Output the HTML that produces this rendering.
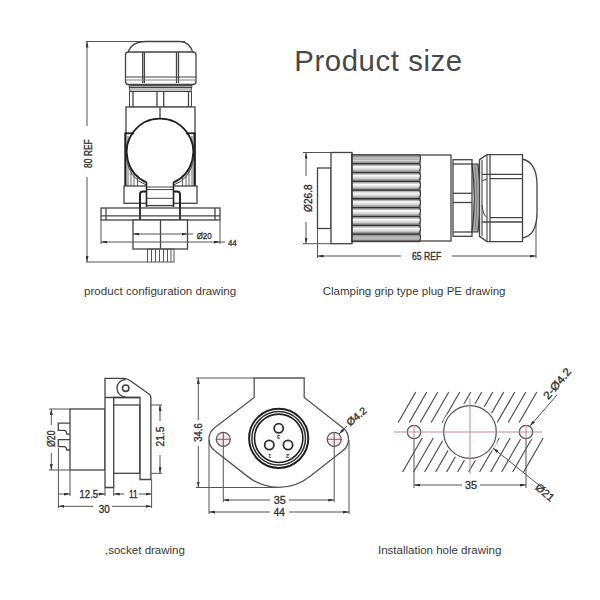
<!DOCTYPE html>
<html><head><meta charset="utf-8">
<style>
html,body{margin:0;padding:0;background:#fff;}
body{width:600px;height:600px;overflow:hidden;position:relative;font-family:"Liberation Sans",sans-serif;}
svg{position:absolute;left:0;top:0;}
.t{position:absolute;white-space:nowrap;color:#3a3a3a;line-height:1;}
</style></head>
<body>
<svg width="600" height="600" viewBox="0 0 600 600">
<defs>
<marker id="ar" viewBox="0 0 6 3" refX="6" refY="1.5" markerWidth="6" markerHeight="3" orient="auto-start-reverse" markerUnits="userSpaceOnUse"><path d="M0,0 L6,1.5 L0,3 z" fill="#333"/></marker>
<clipPath id="hcu"><rect x="398" y="392" width="147" height="30.5"/></clipPath><clipPath id="hcl"><rect x="398" y="438" width="147" height="34"/></clipPath><linearGradient id="ribg" x1="0" y1="0" x2="0" y2="1"><stop offset="0" stop-color="#fafafa"/><stop offset="0.6" stop-color="#d0d0d0"/><stop offset="1" stop-color="#808080"/></linearGradient>
</defs>

<!-- ============ CONFIGURATION DRAWING ============ -->
<g fill="none" stroke="#555" stroke-width="1">
  <!-- dim 80 REF -->
  <line x1="86" y1="41.5" x2="185" y2="41.5"/>
  <line x1="87" y1="41.5" x2="87" y2="126" marker-start="url(#ar)"/>
  <line x1="87" y1="177" x2="87" y2="262" marker-end="url(#ar)"/>
  <line x1="86" y1="262" x2="148" y2="262"/>
</g>
<g fill="#fff" stroke="#444" stroke-width="1.3">
  <!-- dome -->
  <path d="M128,53 Q131,41.5 146,41.5 L180,41.5 Q190,42 193,53"/>
  <!-- nut -->
  <rect x="125.5" y="52" width="70.5" height="32.5" rx="3"/>
  <line x1="142.7" y1="52" x2="142.7" y2="83"/>
  <line x1="144.4" y1="52" x2="144.4" y2="83"/>
  <line x1="176.5" y1="52" x2="176.5" y2="83"/>
  <line x1="178.5" y1="52" x2="178.5" y2="83"/>
  <line x1="125.5" y1="77" x2="196" y2="77" stroke-width="1.1"/>
  <line x1="125.5" y1="80" x2="196" y2="80" stroke-width="0.9" stroke="#777"/>
</g>
<!-- thread -->
<path d="M129,85.5 L192,85.5 L191,91.5 L130,91.5 z" fill="#c4c4c4" stroke="#555" stroke-width="1"/>
<line x1="129" y1="87.3" x2="192" y2="87.3" stroke="#444" stroke-width="1.2"/>
<g fill="#fff" stroke="#444" stroke-width="1.3">
  <rect x="129.5" y="91.5" width="62" height="15.5" stroke-width="1"/>
  <line x1="133" y1="91.5" x2="133" y2="107"/>
  <line x1="157" y1="91.5" x2="157" y2="107"/>
  <line x1="163.7" y1="91.5" x2="163.7" y2="107"/>
  <line x1="188.5" y1="91.5" x2="188.5" y2="107"/>
  <!-- body -->
  <rect x="126" y="107" width="69" height="80"/>
  <line x1="160" y1="107" x2="160" y2="121"/>
  <!-- brackets -->
  <path d="M125.4,133.3 L132,133.3 L132,186 L125.4,186 z" stroke="none"/>
  <path d="M194.6,133.3 L188,133.3 L188,186 L194.6,186 z" stroke="none"/>
  <g stroke="#666" stroke-width="1">
   <line x1="128" y1="136" x2="128" y2="186"/><line x1="131" y1="165" x2="131" y2="186"/><line x1="134" y1="172" x2="134" y2="186"/><line x1="137.5" y1="177" x2="137.5" y2="186"/>
   <line x1="192" y1="136" x2="192" y2="186"/><line x1="189" y1="165" x2="189" y2="186"/><line x1="186" y1="172" x2="186" y2="186"/><line x1="182.5" y1="177" x2="182.5" y2="186"/>
  </g>
  <path d="M146.7,182.5 A33.3,33.3 0 1 1 173.3,182.5" fill="#fff" stroke-width="1.8" stroke="#222"/>
  <path d="M126.5,158 Q129,179 146.5,185" fill="none" stroke="#444" stroke-width="1"/>
  <path d="M193.5,158 Q191,179 173.5,185" fill="none" stroke="#444" stroke-width="1"/>
  <line x1="125.4" y1="132.5" x2="125.4" y2="187" stroke="#222" stroke-width="2.2"/>
  <line x1="194.6" y1="132.5" x2="194.6" y2="187" stroke="#222" stroke-width="2.2"/>
  <line x1="125" y1="133.3" x2="134" y2="133.3" stroke="#222" stroke-width="1.8"/>
  <line x1="195" y1="133.3" x2="186" y2="133.3" stroke="#222" stroke-width="1.8"/>
  <!-- lower body box -->
  <rect x="124" y="186" width="73" height="17.3"/>
  <!-- hinge -->
  <rect x="146.5" y="182.5" width="27" height="24" stroke="none"/>
  <line x1="146.5" y1="182" x2="146.5" y2="207" stroke="#222" stroke-width="1.6"/>
  <line x1="173.5" y1="182" x2="173.5" y2="207" stroke="#222" stroke-width="1.6"/>
  <line x1="146.5" y1="187" x2="173.5" y2="187" stroke-width="1"/>
  <line x1="146.5" y1="189.6" x2="173.5" y2="189.6" stroke-width="1"/>
  <line x1="146.5" y1="198.3" x2="173.5" y2="198.3" stroke-width="1"/>
  <line x1="146.5" y1="205.6" x2="173.5" y2="205.6" stroke-width="1.4"/>
  <path d="M140,220 L140,194 Q140,191.5 143,191.5 L146.5,191.5" fill="none" stroke="#222" stroke-width="1.8"/>
  <path d="M180,220 L180,194 Q180,191.5 177,191.5 L173.5,191.5" fill="none" stroke="#222" stroke-width="1.8"/>
  <!-- flange -->
  <rect x="101" y="208" width="119" height="12"/>
  <line x1="140" y1="220" x2="140" y2="194" stroke="#222" stroke-width="1.8"/>
  <line x1="180" y1="220" x2="180" y2="194" stroke="#222" stroke-width="1.8"/>
  <line x1="101" y1="215.8" x2="220" y2="215.8"/>
  <line x1="106" y1="208" x2="106" y2="220"/>
  <line x1="215" y1="208" x2="215" y2="220"/>
  <!-- lower body -->
  <rect x="133" y="220" width="54.5" height="29"/>
  <line x1="160.5" y1="220" x2="160.5" y2="249"/>
</g>
<!-- pins -->
<g stroke="#555" stroke-width="1" fill="none">
  <rect x="147.5" y="249" width="26.5" height="13"/>
  <line x1="151.5" y1="249" x2="151.5" y2="262"/>
  <line x1="155.5" y1="249" x2="155.5" y2="262"/>
  <line x1="159.5" y1="249" x2="159.5" y2="262"/>
  <line x1="163.5" y1="249" x2="163.5" y2="262"/>
  <line x1="167.5" y1="249" x2="167.5" y2="262"/>
  <line x1="171" y1="249" x2="171" y2="262"/>
  <!-- dims -->
  <line x1="101" y1="220" x2="101" y2="244"/>
  <line x1="220" y1="220" x2="220" y2="244"/>
  <line x1="133" y1="234" x2="187.5" y2="234" marker-start="url(#ar)" marker-end="url(#ar)"/>
  <line x1="187.5" y1="234" x2="193" y2="234"/>
  <line x1="101" y1="242" x2="220" y2="242" marker-start="url(#ar)" marker-end="url(#ar)"/>
  <line x1="220" y1="242" x2="225" y2="242"/>
</g>

<!-- ============ PLUG DRAWING ============ -->
<g fill="none" stroke="#555" stroke-width="1">
  <line x1="303" y1="152.5" x2="331" y2="152.5"/>
  <line x1="303" y1="243.7" x2="331" y2="243.7"/>
  <line x1="306" y1="152.5" x2="306" y2="176" marker-start="url(#ar)"/>
  <line x1="306" y1="222" x2="306" y2="243.7" marker-end="url(#ar)"/>
  <line x1="317.5" y1="228.5" x2="317.5" y2="258"/>
  <line x1="536" y1="200" x2="536" y2="258"/>
  <line x1="317.5" y1="256" x2="401" y2="256" marker-start="url(#ar)"/>
  <line x1="452" y1="256" x2="536" y2="256" marker-end="url(#ar)"/>
</g>
<g fill="#fff" stroke="#444" stroke-width="1.3">
  <rect x="317.5" y="168" width="13.5" height="60.5"/>
  <rect x="331" y="152.5" width="21" height="91.2"/>
  <rect x="420" y="155" width="31" height="86"/>
  <rect x="453" y="159.7" width="19" height="76.6"/>
  <line x1="453" y1="164" x2="472" y2="164"/>
  <line x1="453" y1="193.3" x2="472" y2="193.3"/>
  <line x1="453" y1="202.5" x2="472" y2="202.5"/>
  <line x1="453" y1="232" x2="472" y2="232"/>
  <!-- thread ring -->
  <path d="M472,164 Q476.5,198 472,232 L478,232 Q482,198 478,164 z" fill="#a8a8a8" stroke="#333" stroke-width="1.2"/>
  <path d="M475,166 Q479,198 475,230" fill="none" stroke="#777" stroke-width="0.8"/>
  <!-- dome -->
  <path d="M522,159 Q537,162 537,185 L537,212 Q537,236 522,238"/>
  <!-- gland nut -->
  <path d="M487,154.7 L522.5,154.7 L522.5,241.6 L487,241.6 L479.5,236.3 L479.5,159.7 z"/>
  <line x1="482" y1="159.7" x2="482" y2="236.3" stroke-width="1.1"/>
  <line x1="487" y1="154.7" x2="487" y2="241.6" stroke-width="1.1"/>
  <line x1="490" y1="154.7" x2="490" y2="241.6"/>
  <line x1="482" y1="174.3" x2="522.5" y2="174.3"/>
  <line x1="490" y1="178.7" x2="522.5" y2="178.7"/>
  <line x1="482" y1="181" x2="487" y2="178.7" stroke-width="1"/>
  <line x1="490" y1="217.7" x2="522.5" y2="217.7"/>
  <line x1="482" y1="222" x2="522.5" y2="222"/>
  <path d="M482,205 Q483,215 487,217.7" fill="none" stroke-width="1"/>
</g>
<!-- ribs -->
<g id="ribs"><rect x="352" y="154.00" width="68" height="8.80" fill="#fff"/><rect x="352" y="157.96" width="68" height="4.84" fill="url(#ribg)"/><rect x="352" y="155.60" width="68" height="1.6" fill="#b5b5b5"/><rect x="352" y="154.00" width="68" height="1.7" fill="#333"/><path d="M419,154.80 Q422,158.40 419,162.50" fill="none" stroke="#444" stroke-width="1.2"/><rect x="352" y="162.80" width="68" height="8.80" fill="#fff"/><rect x="352" y="166.76" width="68" height="4.84" fill="url(#ribg)"/><rect x="352" y="164.40" width="68" height="1.6" fill="#b5b5b5"/><rect x="352" y="162.80" width="68" height="1.7" fill="#333"/><path d="M419,163.60 Q422,167.20 419,171.30" fill="none" stroke="#444" stroke-width="1.2"/><rect x="352" y="171.60" width="68" height="8.80" fill="#fff"/><rect x="352" y="175.56" width="68" height="4.84" fill="url(#ribg)"/><rect x="352" y="173.20" width="68" height="1.6" fill="#b5b5b5"/><rect x="352" y="171.60" width="68" height="1.7" fill="#333"/><path d="M419,172.40 Q422,176.00 419,180.10" fill="none" stroke="#444" stroke-width="1.2"/><rect x="352" y="180.40" width="68" height="8.80" fill="#fff"/><rect x="352" y="184.36" width="68" height="4.84" fill="url(#ribg)"/><rect x="352" y="182.00" width="68" height="1.6" fill="#b5b5b5"/><rect x="352" y="180.40" width="68" height="1.7" fill="#333"/><path d="M419,181.20 Q422,184.80 419,188.90" fill="none" stroke="#444" stroke-width="1.2"/><rect x="352" y="189.20" width="68" height="8.80" fill="#fff"/><rect x="352" y="193.16" width="68" height="4.84" fill="url(#ribg)"/><rect x="352" y="190.80" width="68" height="1.6" fill="#b5b5b5"/><rect x="352" y="189.20" width="68" height="1.7" fill="#333"/><path d="M419,190.00 Q422,193.60 419,197.70" fill="none" stroke="#444" stroke-width="1.2"/><rect x="352" y="198.00" width="68" height="8.80" fill="#fff"/><rect x="352" y="201.96" width="68" height="4.84" fill="url(#ribg)"/><rect x="352" y="199.60" width="68" height="1.6" fill="#b5b5b5"/><rect x="352" y="198.00" width="68" height="1.7" fill="#333"/><path d="M419,198.80 Q422,202.40 419,206.50" fill="none" stroke="#444" stroke-width="1.2"/><rect x="352" y="206.80" width="68" height="8.80" fill="#fff"/><rect x="352" y="210.76" width="68" height="4.84" fill="url(#ribg)"/><rect x="352" y="208.40" width="68" height="1.6" fill="#b5b5b5"/><rect x="352" y="206.80" width="68" height="1.7" fill="#333"/><path d="M419,207.60 Q422,211.20 419,215.30" fill="none" stroke="#444" stroke-width="1.2"/><rect x="352" y="215.60" width="68" height="8.80" fill="#fff"/><rect x="352" y="219.56" width="68" height="4.84" fill="url(#ribg)"/><rect x="352" y="217.20" width="68" height="1.6" fill="#b5b5b5"/><rect x="352" y="215.60" width="68" height="1.7" fill="#333"/><path d="M419,216.40 Q422,220.00 419,224.10" fill="none" stroke="#444" stroke-width="1.2"/><rect x="352" y="224.40" width="68" height="8.80" fill="#fff"/><rect x="352" y="228.36" width="68" height="4.84" fill="url(#ribg)"/><rect x="352" y="226.00" width="68" height="1.6" fill="#b5b5b5"/><rect x="352" y="224.40" width="68" height="1.7" fill="#333"/><path d="M419,225.20 Q422,228.80 419,232.90" fill="none" stroke="#444" stroke-width="1.2"/><rect x="352" y="233.20" width="68" height="8.80" fill="#fff"/><rect x="352" y="237.16" width="68" height="4.84" fill="url(#ribg)"/><rect x="352" y="234.80" width="68" height="1.6" fill="#b5b5b5"/><rect x="352" y="233.20" width="68" height="1.7" fill="#333"/><path d="M419,234.00 Q422,237.60 419,241.70" fill="none" stroke="#444" stroke-width="1.2"/><rect x="352" y="154" width="68" height="6" fill="#777" opacity="0.45"/><rect x="352" y="235" width="68" height="7" fill="#777" opacity="0.45"/><rect x="352" y="240.5" width="68" height="1.7" fill="#3c3c3c"/><line x1="352" y1="153.5" x2="352" y2="242.5" stroke="#333" stroke-width="1.6"/></g>

<!-- ============ SOCKET SIDE DRAWING ============ -->
<g fill="#fff" stroke="#444" stroke-width="1.3">
  <rect x="70" y="409" width="35" height="61"/>
  <path d="M70,423.2 L58.3,423.2 L58.3,430.4 L64.5,430.4 Q66.6,431 66.8,434.2 L70,434.2" fill="none"/>
  <path d="M70,439.6 L58.3,439.6 L58.3,446.7 L64.5,446.7 Q66.6,447.3 66.8,450 L70,450" fill="none"/>
  <!-- flange + lever -->
  <path d="M105,487.5 L105,378.3 L124,378.3 Q128.5,378.6 130.7,381.1 L149.3,394.3 Q150.9,395.5 150.9,398 L150.9,479.5 L140,479.5 L140,397.5 L113.7,397.5 L113.7,487.5 z"/>
  <line x1="105" y1="397.5" x2="140" y2="397.5"/>
  <path d="M125.7,379.5 A8.7,8.7 0 0 0 125.7,396.9" fill="none"/>
  <circle cx="125.7" cy="388.2" r="3.2" stroke-width="1.6"/>
  <rect x="113.7" y="405" width="26" height="68.3"/>
</g>
<g fill="none" stroke="#555" stroke-width="1">
  <line x1="49" y1="409" x2="70" y2="409"/>
  <line x1="49" y1="470" x2="70" y2="470"/>
  <line x1="51.3" y1="409" x2="51.3" y2="425" marker-start="url(#ar)"/>
  <line x1="51.3" y1="453" x2="51.3" y2="470" marker-end="url(#ar)"/>
  <line x1="151" y1="405" x2="162" y2="405"/>
  <line x1="151" y1="473.3" x2="162" y2="473.3"/>
  <line x1="160" y1="405" x2="160" y2="421" marker-start="url(#ar)"/>
  <line x1="160" y1="455" x2="160" y2="473.3" marker-end="url(#ar)"/>
  <line x1="58.4" y1="448" x2="58.4" y2="508"/>
  <line x1="70" y1="470" x2="70" y2="496"/>
  <line x1="105" y1="487.5" x2="105" y2="496"/>
  <line x1="113.7" y1="487.5" x2="113.7" y2="496"/>
  <line x1="151.6" y1="479.5" x2="151.6" y2="508"/>
  <line x1="58.4" y1="494" x2="70" y2="494" marker-end="url(#ar)"/>
  <line x1="97" y1="494" x2="105" y2="494" marker-end="url(#ar)"/>
  <line x1="113.7" y1="494" x2="124" y2="494" marker-start="url(#ar)"/>
  <line x1="139" y1="494" x2="151.6" y2="494" marker-end="url(#ar)"/>
  <line x1="58.4" y1="506.3" x2="93" y2="506.3" marker-start="url(#ar)"/>
  <line x1="112" y1="506.3" x2="151.6" y2="506.3" marker-end="url(#ar)"/>
</g>

<!-- ============ SOCKET FRONT DRAWING ============ -->
<g fill="#fff" stroke="#555" stroke-width="1.3">
  <path d="M254.2,378 L304.2,378 L304.2,397.5 L343.02,427.95 A14.3,14.3 0 0 1 343.01,450.46 L309.51,476.68 A50,50 0 0 1 247.83,476.63 L214.47,450.45 A14.3,14.3 0 0 1 214.60,427.85 L254.2,397.5 Z"/>
  <circle cx="278.7" cy="438.3" r="29.6" stroke-width="2" stroke="#222"/>
  <circle cx="278.7" cy="438.3" r="26.8" stroke-width="1.5" stroke="#333"/>
  <circle cx="278.7" cy="438.3" r="24.2" stroke-width="1.6" stroke="#222"/>
  <circle cx="278.7" cy="428.3" r="4.6" stroke-width="1.8" stroke="#333"/>
  <circle cx="269.3" cy="445" r="4.6" stroke-width="1.8" stroke="#333"/>
  <circle cx="288" cy="445" r="4.6" stroke-width="1.8" stroke="#333"/>
  <g fill="#333" stroke="none" font-family="Liberation Sans" font-weight="bold" font-size="6" text-anchor="middle" dominant-baseline="central">
   <text transform="translate(278.7,437.3) rotate(180)">3</text>
   <text transform="translate(269.8,455.5) rotate(180)">1</text>
   <text transform="translate(287.5,455.5) rotate(180)">2</text>
  </g>
</g>
<g fill="#f7e9ec" stroke="#5a5a5a" stroke-width="1.3">
  <circle cx="223.3" cy="439.3" r="7"/>
  <circle cx="334.2" cy="439.3" r="7"/>
</g>
<g fill="none" stroke="#555" stroke-width="1">
  <line x1="196" y1="378" x2="254" y2="378"/>
  <line x1="196" y1="487.5" x2="279" y2="487.5"/>
  <line x1="198.3" y1="378" x2="198.3" y2="420" marker-start="url(#ar)"/>
  <line x1="198.3" y1="446" x2="198.3" y2="487.5" marker-end="url(#ar)"/>
  <line x1="209" y1="440" x2="209" y2="514"/>
  <line x1="349" y1="440" x2="349" y2="514"/>
  <line x1="223.3" y1="432.3" x2="223.3" y2="502"/>
  <line x1="334.2" y1="432.3" x2="334.2" y2="502"/>
  <line x1="223.3" y1="500" x2="270" y2="500" marker-start="url(#ar)"/>
  <line x1="289" y1="500" x2="334.2" y2="500" marker-end="url(#ar)"/>
  <line x1="209" y1="512" x2="270" y2="512" marker-start="url(#ar)"/>
  <line x1="289" y1="512" x2="349" y2="512" marker-end="url(#ar)"/>
  <line x1="339" y1="434" x2="347" y2="426" marker-start="url(#ar)"/>
</g>
<g fill="none" stroke="#7a6268" stroke-width="1">
  <line x1="216.5" y1="439.3" x2="230" y2="439.3"/>
  <line x1="327.4" y1="439.3" x2="341" y2="439.3"/>
</g>

<!-- ============ INSTALLATION HOLE ============ -->
<g id="hatch" stroke="#505050" stroke-width="1.2"><line x1="398.19" y1="422.5" x2="415.80" y2="392"/><line x1="409.19" y1="422.5" x2="426.80" y2="392"/><line x1="420.19" y1="422.5" x2="437.80" y2="392"/><line x1="431.19" y1="422.5" x2="448.80" y2="392"/><line x1="442.19" y1="422.5" x2="459.80" y2="392"/><line x1="453.19" y1="422.5" x2="470.80" y2="392"/><line x1="464.19" y1="422.5" x2="481.80" y2="392"/><line x1="475.19" y1="422.5" x2="492.80" y2="392"/><line x1="486.19" y1="422.5" x2="503.80" y2="392"/><line x1="497.19" y1="422.5" x2="514.80" y2="392"/><line x1="508.19" y1="422.5" x2="525.80" y2="392"/><line x1="519.19" y1="422.5" x2="536.80" y2="392"/><line x1="402.60" y1="472" x2="422.23" y2="438"/><line x1="413.60" y1="472" x2="433.23" y2="438"/><line x1="424.60" y1="472" x2="444.23" y2="438"/><line x1="435.60" y1="472" x2="455.23" y2="438"/><line x1="446.60" y1="472" x2="466.23" y2="438"/><line x1="457.60" y1="472" x2="477.23" y2="438"/><line x1="468.60" y1="472" x2="488.23" y2="438"/><line x1="479.60" y1="472" x2="499.23" y2="438"/><line x1="490.60" y1="472" x2="510.23" y2="438"/><line x1="501.60" y1="472" x2="521.23" y2="438"/><line x1="512.60" y1="472" x2="532.23" y2="438"/><line x1="523.60" y1="472" x2="543.23" y2="438"/></g><g clip-path="url(#hcl)"><line x1="237.61" y1="472" x2="283.80" y2="392"/><line x1="248.61" y1="472" x2="294.80" y2="392"/><line x1="259.61" y1="472" x2="305.80" y2="392"/><line x1="270.61" y1="472" x2="316.80" y2="392"/><line x1="281.61" y1="472" x2="327.80" y2="392"/><line x1="292.61" y1="472" x2="338.80" y2="392"/><line x1="303.61" y1="472" x2="349.80" y2="392"/><line x1="314.61" y1="472" x2="360.80" y2="392"/><line x1="325.61" y1="472" x2="371.80" y2="392"/><line x1="336.61" y1="472" x2="382.80" y2="392"/><line x1="347.61" y1="472" x2="393.80" y2="392"/><line x1="358.61" y1="472" x2="404.80" y2="392"/><line x1="369.61" y1="472" x2="415.80" y2="392"/><line x1="380.61" y1="472" x2="426.80" y2="392"/><line x1="391.61" y1="472" x2="437.80" y2="392"/><line x1="402.61" y1="472" x2="448.80" y2="392"/><line x1="413.61" y1="472" x2="459.80" y2="392"/><line x1="424.61" y1="472" x2="470.80" y2="392"/><line x1="435.61" y1="472" x2="481.80" y2="392"/><line x1="446.61" y1="472" x2="492.80" y2="392"/><line x1="457.61" y1="472" x2="503.80" y2="392"/><line x1="468.61" y1="472" x2="514.80" y2="392"/><line x1="479.61" y1="472" x2="525.80" y2="392"/><line x1="490.61" y1="472" x2="536.80" y2="392"/><line x1="501.61" y1="472" x2="547.80" y2="392"/><line x1="512.61" y1="472" x2="558.80" y2="392"/><line x1="523.61" y1="472" x2="569.80" y2="392"/><line x1="534.61" y1="472" x2="580.80" y2="392"/><line x1="545.61" y1="472" x2="591.80" y2="392"/><line x1="556.61" y1="472" x2="602.80" y2="392"/><line x1="567.61" y1="472" x2="613.80" y2="392"/><line x1="578.61" y1="472" x2="624.80" y2="392"/></g></g><g clip-path="url(#hcl)"><line x1="237.61" y1="472" x2="283.80" y2="392"/><line x1="248.61" y1="472" x2="294.80" y2="392"/><line x1="259.61" y1="472" x2="305.80" y2="392"/><line x1="270.61" y1="472" x2="316.80" y2="392"/><line x1="281.61" y1="472" x2="327.80" y2="392"/><line x1="292.61" y1="472" x2="338.80" y2="392"/><line x1="303.61" y1="472" x2="349.80" y2="392"/><line x1="314.61" y1="472" x2="360.80" y2="392"/><line x1="325.61" y1="472" x2="371.80" y2="392"/><line x1="336.61" y1="472" x2="382.80" y2="392"/><line x1="347.61" y1="472" x2="393.80" y2="392"/><line x1="358.61" y1="472" x2="404.80" y2="392"/><line x1="369.61" y1="472" x2="415.80" y2="392"/><line x1="380.61" y1="472" x2="426.80" y2="392"/><line x1="391.61" y1="472" x2="437.80" y2="392"/><line x1="402.61" y1="472" x2="448.80" y2="392"/><line x1="413.61" y1="472" x2="459.80" y2="392"/><line x1="424.61" y1="472" x2="470.80" y2="392"/><line x1="435.61" y1="472" x2="481.80" y2="392"/><line x1="446.61" y1="472" x2="492.80" y2="392"/><line x1="457.61" y1="472" x2="503.80" y2="392"/><line x1="468.61" y1="472" x2="514.80" y2="392"/><line x1="479.61" y1="472" x2="525.80" y2="392"/><line x1="490.61" y1="472" x2="536.80" y2="392"/><line x1="501.61" y1="472" x2="547.80" y2="392"/><line x1="512.61" y1="472" x2="558.80" y2="392"/><line x1="523.61" y1="472" x2="569.80" y2="392"/><line x1="534.61" y1="472" x2="580.80" y2="392"/><line x1="545.61" y1="472" x2="591.80" y2="392"/><line x1="556.61" y1="472" x2="602.80" y2="392"/><line x1="567.61" y1="472" x2="613.80" y2="392"/><line x1="578.61" y1="472" x2="624.80" y2="392"/></g></g><g clip-path="url(#hcl)"><line x1="237.61" y1="472" x2="283.80" y2="392"/><line x1="248.61" y1="472" x2="294.80" y2="392"/><line x1="259.61" y1="472" x2="305.80" y2="392"/><line x1="270.61" y1="472" x2="316.80" y2="392"/><line x1="281.61" y1="472" x2="327.80" y2="392"/><line x1="292.61" y1="472" x2="338.80" y2="392"/><line x1="303.61" y1="472" x2="349.80" y2="392"/><line x1="314.61" y1="472" x2="360.80" y2="392"/><line x1="325.61" y1="472" x2="371.80" y2="392"/><line x1="336.61" y1="472" x2="382.80" y2="392"/><line x1="347.61" y1="472" x2="393.80" y2="392"/><line x1="358.61" y1="472" x2="404.80" y2="392"/><line x1="369.61" y1="472" x2="415.80" y2="392"/><line x1="380.61" y1="472" x2="426.80" y2="392"/><line x1="391.61" y1="472" x2="437.80" y2="392"/><line x1="402.61" y1="472" x2="448.80" y2="392"/><line x1="413.61" y1="472" x2="459.80" y2="392"/><line x1="424.61" y1="472" x2="470.80" y2="392"/><line x1="435.61" y1="472" x2="481.80" y2="392"/><line x1="446.61" y1="472" x2="492.80" y2="392"/><line x1="457.61" y1="472" x2="503.80" y2="392"/><line x1="468.61" y1="472" x2="514.80" y2="392"/><line x1="479.61" y1="472" x2="525.80" y2="392"/><line x1="490.61" y1="472" x2="536.80" y2="392"/><line x1="501.61" y1="472" x2="547.80" y2="392"/><line x1="512.61" y1="472" x2="558.80" y2="392"/><line x1="523.61" y1="472" x2="569.80" y2="392"/><line x1="534.61" y1="472" x2="580.80" y2="392"/><line x1="545.61" y1="472" x2="591.80" y2="392"/><line x1="556.61" y1="472" x2="602.80" y2="392"/><line x1="567.61" y1="472" x2="613.80" y2="392"/><line x1="578.61" y1="472" x2="624.80" y2="392"/></g></g><g clip-path="url(#hcl)"><line x1="237.61" y1="472" x2="283.80" y2="392"/><line x1="248.61" y1="472" x2="294.80" y2="392"/><line x1="259.61" y1="472" x2="305.80" y2="392"/><line x1="270.61" y1="472" x2="316.80" y2="392"/><line x1="281.61" y1="472" x2="327.80" y2="392"/><line x1="292.61" y1="472" x2="338.80" y2="392"/><line x1="303.61" y1="472" x2="349.80" y2="392"/><line x1="314.61" y1="472" x2="360.80" y2="392"/><line x1="325.61" y1="472" x2="371.80" y2="392"/><line x1="336.61" y1="472" x2="382.80" y2="392"/><line x1="347.61" y1="472" x2="393.80" y2="392"/><line x1="358.61" y1="472" x2="404.80" y2="392"/><line x1="369.61" y1="472" x2="415.80" y2="392"/><line x1="380.61" y1="472" x2="426.80" y2="392"/><line x1="391.61" y1="472" x2="437.80" y2="392"/><line x1="402.61" y1="472" x2="448.80" y2="392"/><line x1="413.61" y1="472" x2="459.80" y2="392"/><line x1="424.61" y1="472" x2="470.80" y2="392"/><line x1="435.61" y1="472" x2="481.80" y2="392"/><line x1="446.61" y1="472" x2="492.80" y2="392"/><line x1="457.61" y1="472" x2="503.80" y2="392"/><line x1="468.61" y1="472" x2="514.80" y2="392"/><line x1="479.61" y1="472" x2="525.80" y2="392"/><line x1="490.61" y1="472" x2="536.80" y2="392"/><line x1="501.61" y1="472" x2="547.80" y2="392"/><line x1="512.61" y1="472" x2="558.80" y2="392"/><line x1="523.61" y1="472" x2="569.80" y2="392"/><line x1="534.61" y1="472" x2="580.80" y2="392"/><line x1="545.61" y1="472" x2="591.80" y2="392"/><line x1="556.61" y1="472" x2="602.80" y2="392"/><line x1="567.61" y1="472" x2="613.80" y2="392"/><line x1="578.61" y1="472" x2="624.80" y2="392"/></g></g>
<g fill="#fff" stroke="#fff" stroke-width="5">
  <circle cx="470" cy="432" r="26.3"/>
  <circle cx="414" cy="432" r="6.7"/>
  <circle cx="526" cy="432" r="6.7"/>
</g>
<g fill="#fff" stroke="#555" stroke-width="1.2">
  <circle cx="470" cy="432" r="26.3"/>
  <circle cx="414" cy="432" r="6.7"/>
  <circle cx="526" cy="432" r="6.7"/>
</g>
<g fill="none" stroke="#bf8a95" stroke-width="1">
  <line x1="394" y1="432" x2="542" y2="432"/>
  <line x1="470" y1="398" x2="470" y2="474"/>
  <line x1="414" y1="425" x2="414" y2="439"/>
  <line x1="526" y1="425" x2="526" y2="439"/>
</g>
<g fill="none" stroke="#555" stroke-width="1">
  <line x1="414" y1="439" x2="414" y2="488"/>
  <line x1="526" y1="439" x2="526" y2="488"/>
  <line x1="414" y1="485" x2="462" y2="485" marker-start="url(#ar)"/>
  <line x1="480" y1="485" x2="526" y2="485" marker-end="url(#ar)"/>
  <line x1="530" y1="426" x2="557" y2="395" marker-start="url(#ar)"/>
  <line x1="493" y1="448" x2="545" y2="490" marker-start="url(#ar)"/>
</g>
<g id="dimtext" font-family="Liberation Sans" font-weight="normal" fill="#333" stroke="#333" stroke-width="0.35"><text transform="translate(88,153.6) rotate(-90)" x="0" y="0" font-size="10.5" textLength="28.7" lengthAdjust="spacingAndGlyphs" text-anchor="middle" dominant-baseline="central">80 REF</text><text transform="translate(204.2,235.8) rotate(0)" x="0" y="0" font-size="9.5" textLength="15" lengthAdjust="spacingAndGlyphs" text-anchor="middle" dominant-baseline="central">Ø20</text><text transform="translate(232.3,242.5) rotate(0)" x="0" y="0" font-size="9" textLength="8.7" lengthAdjust="spacingAndGlyphs" text-anchor="middle" dominant-baseline="central">44</text><text transform="translate(307.5,198.2) rotate(-90)" x="0" y="0" font-size="11" textLength="27.5" lengthAdjust="spacingAndGlyphs" text-anchor="middle" dominant-baseline="central">Ø26.8</text><text transform="translate(426.7,256) rotate(0)" x="0" y="0" font-size="11" textLength="29.3" lengthAdjust="spacingAndGlyphs" text-anchor="middle" dominant-baseline="central">65 REF</text><text transform="translate(51.3,438.7) rotate(-90)" x="0" y="0" font-size="11" textLength="16.6" lengthAdjust="spacingAndGlyphs" text-anchor="middle" dominant-baseline="central">Ø20</text><text transform="translate(160.3,436.5) rotate(-90)" x="0" y="0" font-size="11" textLength="20" lengthAdjust="spacingAndGlyphs" text-anchor="middle" dominant-baseline="central">21.5</text><text transform="translate(88.8,494.4) rotate(0)" x="0" y="0" font-size="10.5" textLength="18.4" lengthAdjust="spacingAndGlyphs" text-anchor="middle" dominant-baseline="central">12.5</text><text transform="translate(133.3,494.4) rotate(0)" x="0" y="0" font-size="10.5" textLength="8.6" lengthAdjust="spacingAndGlyphs" text-anchor="middle" dominant-baseline="central">11</text><text transform="translate(104.3,509) rotate(0)" x="0" y="0" font-size="11" textLength="11" lengthAdjust="spacingAndGlyphs" text-anchor="middle" dominant-baseline="central">30</text><text transform="translate(198.5,432.5) rotate(-90)" x="0" y="0" font-size="10" textLength="18.4" lengthAdjust="spacingAndGlyphs" text-anchor="middle" dominant-baseline="central">34.6</text><text transform="translate(279.7,500) rotate(0)" x="0" y="0" font-size="11" textLength="12" lengthAdjust="spacingAndGlyphs" text-anchor="middle" dominant-baseline="central">35</text><text transform="translate(279.2,512.7) rotate(0)" x="0" y="0" font-size="10" textLength="11" lengthAdjust="spacingAndGlyphs" text-anchor="middle" dominant-baseline="central">44</text><text transform="translate(356.5,416.5) rotate(-40)" x="0" y="0" font-size="10" textLength="23" lengthAdjust="spacingAndGlyphs" text-anchor="middle" dominant-baseline="central">Ø4.2</text><text transform="translate(471,485) rotate(0)" x="0" y="0" font-size="11" textLength="12" lengthAdjust="spacingAndGlyphs" text-anchor="middle" dominant-baseline="central">35</text><text transform="translate(557,383.5) rotate(-50)" x="0" y="0" font-size="11" textLength="37" lengthAdjust="spacingAndGlyphs" text-anchor="middle" dominant-baseline="central">2-Ø4.2</text><text transform="translate(545,492.3) rotate(40)" x="0" y="0" font-size="11" textLength="21" lengthAdjust="spacingAndGlyphs" text-anchor="middle" dominant-baseline="central">Ø21</text></g>
</svg>

<!-- texts -->
<div class="t" style="left:294.3px;top:46.3px;font-size:29.3px;letter-spacing:0.6px;color:#484848;">Product size</div>
<div class="t" style="left:84px;top:285px;font-size:11.6px;">product configuration drawing</div>
<div class="t" style="left:322.7px;top:285.5px;font-size:11.5px;">Clamping grip type plug PE drawing</div>
<div class="t" style="left:105px;top:544.5px;font-size:11.5px;">,socket drawing</div>
<div class="t" style="left:378px;top:544.5px;font-size:11.5px;">Installation hole drawing</div>
</body></html>
